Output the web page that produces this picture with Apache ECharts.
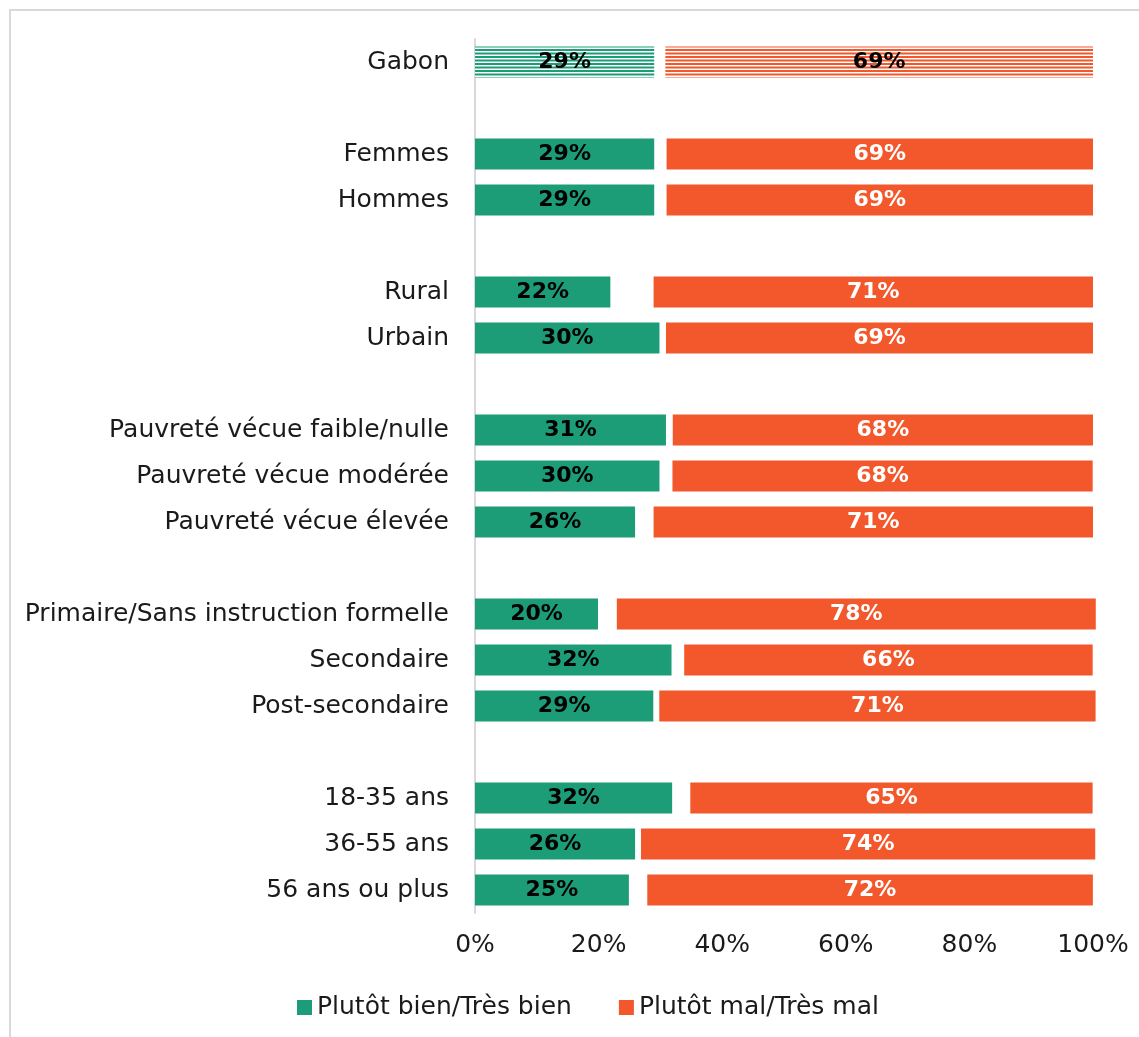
<!DOCTYPE html>
<html>
<head>
<meta charset="utf-8">
<script src="https://cdn.jsdelivr.net/npm/echarts@6/dist/echarts.min.js"></script>
<style>
html,body{margin:0;padding:0;background:#fff;}
#chart{width:1139px;height:1037px;}
</style>
</head>
<body>
<div id="chart"></div>
<script>
const categories = ['Gabon', ' ', 'Femmes', 'Hommes', '  ', 'Rural', 'Urbain', '   ',
  'Pauvreté vécue faible/nulle', 'Pauvreté vécue modérée', 'Pauvreté vécue élevée', '    ',
  'Primaire/Sans instruction formelle', 'Secondaire', 'Post-secondaire', '     ',
  '18-35 ans', '36-55 ans', '56 ans ou plus'];
const bien = [29.0, null, 29.0, 29.0, null, 21.9, 29.85, null, 30.9, 29.85, 25.9, null, 19.9, 31.8, 28.85, null, 31.9, 25.9, 24.9];
const autre = [1.8, null, 2.0, 2.0, null, 7.0, 1.05, null, 1.1, 2.1, 3.0, null, 3.05, 2.05, 0.97, null, 2.94, 0.96, 2.98];
const mal = [69.2, null, 69.0, 69.0, null, 71.1, 69.1, null, 68.0, 68.0, 71.1, null, 77.5, 66.1, 70.6, null, 65.1, 73.5, 72.1];
const xTicks = [0, 20, 40, 60, 80, 100];

const GREEN = '#1c9d78';
const ORANGE = '#f2582b';
const FONT = '"DejaVu Sans", sans-serif';

function stripes(color) {
  const c = document.createElement('canvas');
  c.width = 4; c.height = 7;
  const g = c.getContext('2d');
  g.fillStyle = '#ffffff';
  g.fillRect(0, 0, 4, 7);
  g.fillStyle = color;
  g.fillRect(0, 0, 4, 2);
  g.fillRect(0, 3.5, 4, 2);
  return { image: c, repeat: 'repeat' };
}

function toData(arr, patternColor) {
  return arr.map((v, i) => {
    if (v === null) return null;
    if (i === 0 && patternColor) {
      return { value: v, itemStyle: { color: stripes(patternColor) }, label: { color: '#000' } };
    }
    return v;
  });
}

const chart = echarts.init(document.getElementById('chart'), null, { renderer: 'canvas' });
const labelFmt = p => Math.round(p.value) + '%';

chart.setOption({
  animation: false,
  textStyle: { fontFamily: FONT },
  grid: { left: 475, right: 46, top: 39, bottom: 124, containLabel: false },
  graphic: [{
    type: 'rect', silent: true,
    shape: { x: 10, y: 10, width: 1400, height: 1400 },
    style: { fill: 'none', stroke: '#d9d9d9', lineWidth: 2 }
  }],
  legend: {
    data: ['Plutôt bien/Très bien', 'Plutôt mal/Très mal'],
    left: 292, top: 990,
    icon: 'rect', itemWidth: 15, itemHeight: 15, itemGap: 47,
    textStyle: { fontFamily: FONT, fontSize: 25, color: '#1a1a1a' }
  },
  xAxis: {
    type: 'value', min: 0, max: 100, interval: 20,
    axisLine: { show: false }, axisTick: { show: false }, splitLine: { show: false },
    axisLabel: {
      fontFamily: FONT, fontSize: 25, color: '#1a1a1a', margin: 20,
      formatter: v => xTicks.includes(v) ? v + '%' : ''
    }
  },
  yAxis: {
    type: 'category', inverse: true, data: categories,
    axisLine: { show: true, lineStyle: { color: '#d9d9d9', width: 2 } },
    axisTick: { show: false },
    axisLabel: { fontFamily: FONT, fontSize: 25, color: '#1a1a1a', margin: 26, padding: [3, 0, 0, 0] }
  },
  series: [
    {
      name: 'Plutôt bien/Très bien', type: 'bar', stack: 's', barWidth: 31, clip: false,
      itemStyle: { color: GREEN },
      label: { show: true, position: 'inside', formatter: labelFmt, color: '#000',
        fontFamily: FONT, fontWeight: 'bold', fontSize: 22 },
      data: toData(bien, GREEN)
    },
    {
      name: 'Autre', type: 'bar', stack: 's', barWidth: 31, clip: false,
      itemStyle: { color: 'rgba(0,0,0,0)' },
      label: { show: false }, data: autre
    },
    {
      name: 'Plutôt mal/Très mal', type: 'bar', stack: 's', barWidth: 31, clip: false,
      itemStyle: { color: ORANGE },
      label: { show: true, position: 'inside', formatter: labelFmt, color: '#fff',
        fontFamily: FONT, fontWeight: 'bold', fontSize: 22 },
      data: toData(mal, ORANGE)
    }
  ]
});
</script>
</body>
</html>
